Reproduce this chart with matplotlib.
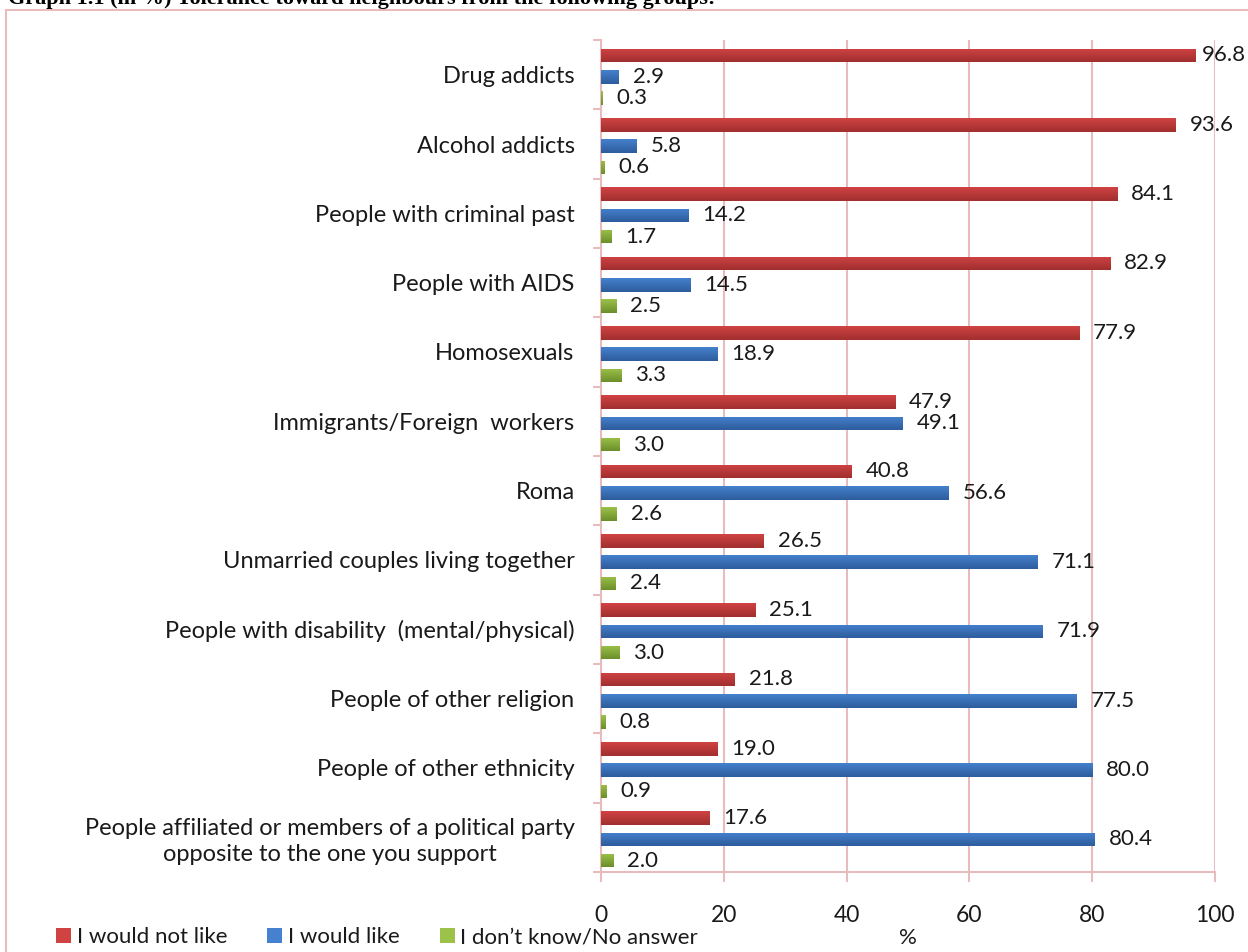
import matplotlib
matplotlib.use("Agg")
import matplotlib.pyplot as plt
import numpy as np
from matplotlib.patches import Patch, Rectangle
from matplotlib.colors import LinearSegmentedColormap

# --- data -------------------------------------------------------------
groups = [
    "Drug addicts",
    "Alcohol addicts",
    "People with criminal past",
    "People with AIDS",
    "Homosexuals",
    "Immigrants/Foreign  workers",
    "Roma",
    "Unmarried couples living together",
    "People with disability  (mental/physical)",
    "People of other religion",
    "People of other ethnicity",
    "People affiliated or members of a political party\nopposite to the one you support",
]
would_not_like = [96.8, 93.6, 84.1, 82.9, 77.9, 47.9, 40.8, 26.5, 25.1, 21.8, 19.0, 17.6]
would_like = [2.9, 5.8, 14.2, 14.5, 18.9, 49.1, 56.6, 71.1, 71.9, 77.5, 80.0, 80.4]
no_answer = [0.3, 0.6, 1.7, 2.5, 3.3, 3.0, 2.6, 2.4, 3.0, 0.8, 0.9, 2.0]
series_names = ["I would not like", "I would like", "I don\u2019t know/No answer"]
x_ticks = [0, 20, 40, 60, 80, 100]

# --- styling ----------------------------------------------------------
FONT = "Lato"
FS = 16          # legend, axis title
FS_CAT = 17      # category names
FS_VAL = 16      # value labels
FS_TICK = 16.5   # x tick labels
PINK = "#E8BCBC"
TEXT = "#1a1a1a"
shades = [("#D04343", "#A12E2E"), ("#4581CE", "#2D5C9C"), ("#9CC24A", "#6C8E2A")]

W, H = 1248, 952
fig = plt.figure(figsize=(W / 100, H / 100), dpi=100)

def px(x0, y0, x1, y1):
    return [x0 / W, 1 - y1 / H, (x1 - x0) / W, (y1 - y0) / H]

# outer frame of the chart area
fig.patches.append(Rectangle((6 / W, -0.05), 1.2, 1 - 10 / H + 0.05,
                             transform=fig.transFigure, fill=False,
                             edgecolor=PINK, lw=1.5))

# heading, running off the top edge
fig.text(8 / W, 1 - 4 / H,
         "Graph 1.1 (in %) Tolerance toward neighbours from the following groups:",
         family="Liberation Serif", weight="bold", fontsize=16, va="baseline",
         ha="left", color="black")

ax = fig.add_axes(px(601, 40, 1215, 872))

n = len(groups)
y = np.arange(n) + 0.03
off = 0.307
h = 0.195
bars = []
value_labels = []
for k, (vals, name) in enumerate(zip([would_not_like, would_like, no_answer], series_names)):
    ypos = y + (k - 1) * off
    b = ax.barh(ypos, vals, height=h, color=shades[k][0], label=name, zorder=3)
    bars.append(b)
    for v, yy in zip(vals, ypos):
        t = ax.annotate(f"{v:.1f}", (v, yy), xytext=(10, 0), textcoords="offset points",
                        va="center", ha="left", fontsize=FS_VAL, family=FONT, color=TEXT,
                        zorder=5, annotation_clip=False)
        value_labels.append(t)

# vertical shading of each bar (light top, dark bottom)
for k, b in enumerate(bars):
    cmap = LinearSegmentedColormap.from_list(f"g{k}", [shades[k][0], shades[k][1]])
    grad = np.linspace(0, 1, 64).reshape(-1, 1)
    for p in b.patches:
        x0, y0 = p.get_x(), p.get_y()
        w_, h_ = p.get_width(), p.get_height()
        im = ax.imshow(grad, cmap=cmap, aspect="auto", zorder=4,
                       extent=(x0, x0 + w_, y0 + h_, y0), origin="upper")
        im.set_clip_path(p)

ax.set_xlim(0, 100)
ax.set_ylim(n - 0.5, -0.5)
ax.set_xticks(x_ticks)
ax.set_xticklabels([str(t) for t in x_ticks], family=FONT, fontsize=FS_TICK, color=TEXT)
ax.set_yticks(np.arange(n))
ax.set_yticklabels(groups, family=FONT, fontsize=FS_CAT, color=TEXT)
for lab in ax.get_yticklabels():
    lab.set_multialignment("center")
    lab.set_linespacing(1.25)
ax.set_yticks(np.arange(n + 1) - 0.5, minor=True)
ax.tick_params(axis="y", which="major", length=0, pad=19)
ax.tick_params(axis="y", which="minor", length=6, width=1.5, color=PINK, direction="out")
ax.tick_params(axis="x", which="major", length=7, width=1.5, color=PINK,
               direction="out", pad=17)
ax.xaxis.grid(True, color=PINK, lw=1.5, zorder=0)
ax.set_axisbelow(True)
for s in ["top", "right"]:
    ax.spines[s].set_visible(False)
for s in ["left", "bottom"]:
    ax.spines[s].set_color(PINK)
    ax.spines[s].set_linewidth(1.5)
ax.set_xlabel("%", family=FONT, fontsize=FS, color=TEXT, labelpad=1)

# keep value labels inside the figure
fig.canvas.draw()
renderer = fig.canvas.get_renderer()
for t in value_labels:
    bb = t.get_window_extent(renderer)
    if bb.x1 > W - 2:
        shift = (bb.x1 - (W - 2)) * 72 / fig.dpi
        x_off, y_off = t.xyann
        t.xyann = (x_off - shift, y_off)

handles = [Patch(facecolor=shades[k][0], edgecolor="none") for k in range(3)]
leg = fig.legend(handles, series_names, loc="center left",
                 bbox_to_anchor=(56 / W, 1 - 937 / H), ncol=3, frameon=False,
                 handlelength=0.68, handleheight=0.68, handletextpad=0.25,
                 columnspacing=1.8, borderaxespad=0, borderpad=0,
                 prop={"family": FONT, "size": FS})
for t in leg.get_texts():
    t.set_color(TEXT)

fig.savefig("out.png", dpi=100)
